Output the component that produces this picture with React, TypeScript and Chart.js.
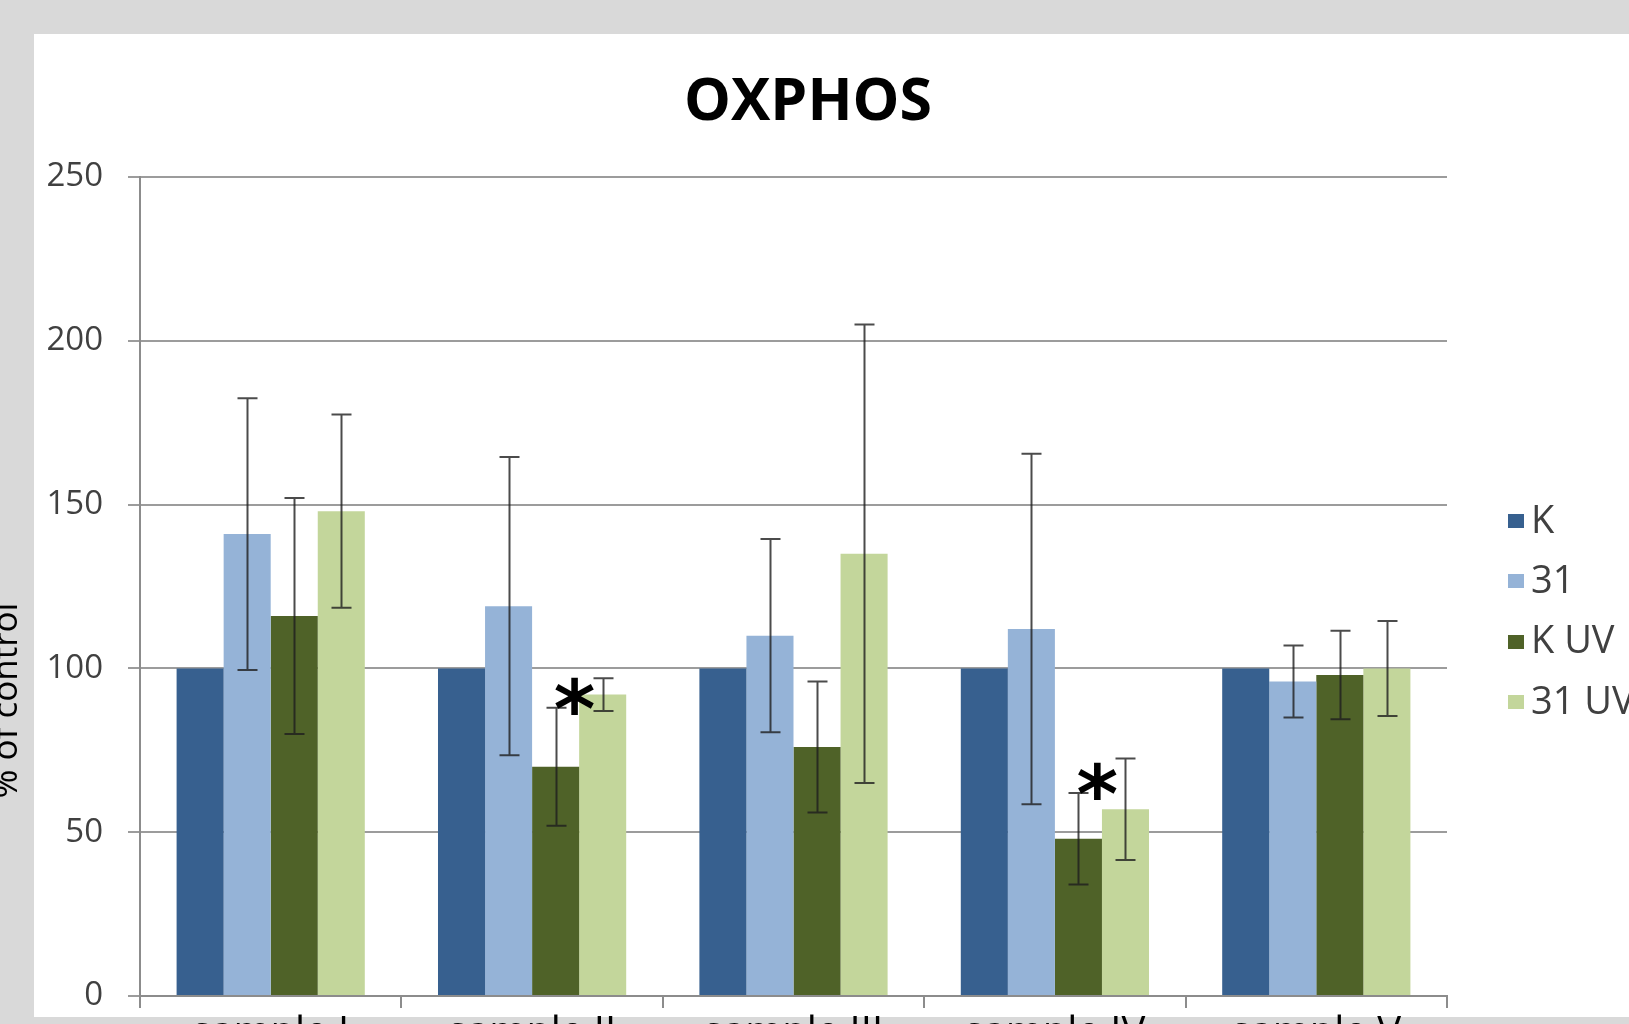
import React, { useEffect, useRef } from 'react';
import { Chart, registerables } from 'chart.js';

Chart.register(...registerables);

// ---- data ----
const categories = ['sample I', 'sample II', 'sample III', 'sample IV', 'sample V'];
const seriesNames = ['K', '31', 'K UV', '31 UV'];
const valuesK = [100, 100, 100, 100, 100];
const values31 = [141, 119, 110, 112, 96];
const valuesKUV = [116, 70, 76, 48, 98];
const values31UV = [148, 92, 135, 57, 100];
const errK = [0, 0, 0, 0, 0];
const err31 = [41.5, 45.5, 29.5, 53.5, 11];
const errKUV = [36, 18, 20, 14, 13.5];
const err31UV = [29.5, 5, 70, 15.5, 14.5];
const yTickMin = 0;
const yTickMax = 250;
const yTickStep = 50;
const significantCategories = ['sample II', 'sample IV'];
const significantSeries = 'K UV';
const titleText = 'OXPHOS';
const yTitleText = '% of control';

const seriesValues = [valuesK, values31, valuesKUV, values31UV];
const seriesErrors = [errK, err31, errKUV, err31UV];
const seriesColors = ['#37608f', '#95b3d7', '#4f6228', '#c3d69b'];

const W = 1640;
const H = 1080;
const FONT = "'Open Sans', sans-serif";

const backgroundPlugin = {
  id: 'bgPanel',
  beforeDraw(chart: any) {
    const ctx = chart.ctx;
    ctx.save();
    ctx.fillStyle = '#d9d9d9';
    ctx.fillRect(0, 0, chart.width, chart.height);
    ctx.fillStyle = '#ffffff';
    ctx.fillRect(34, 34, chart.width - 34, 1017 - 34);
    ctx.restore();
  },
  afterDraw(chart: any) {
    const ctx = chart.ctx;
    const area = chart.chartArea;
    // y axis title
    ctx.save();
    ctx.translate(17, (area.top + area.bottom) / 2 + 114);
    ctx.rotate(-Math.PI / 2);
    ctx.font = `35px ${FONT}`;
    ctx.fillStyle = '#000000';
    ctx.textAlign = 'center';
    ctx.textBaseline = 'alphabetic';
    ctx.fillText(yTitleText, 0, 0);
    ctx.restore();

    // legend (Excel style, to the right of the plot)
    ctx.save();
    const ds = chart.data.datasets;
    const markerX = area.right + 61;
    const firstY = (area.top + area.bottom) / 2 - 65.5;
    const step = 60.3;
    ctx.font = `38px ${FONT}`;
    ctx.textAlign = 'left';
    ctx.textBaseline = 'middle';
    ds.forEach((d: any, i: number) => {
      const cy = firstY + i * step;
      ctx.fillStyle = d.backgroundColor;
      ctx.fillRect(markerX, Math.round(cy - 7), 16, 14);
      ctx.fillStyle = '#404040';
      ctx.fillText(d.label, markerX + 23, cy + 1);
    });
    ctx.restore();
  },
};

const errorBarPlugin = {
  id: 'errorBars',
  afterDatasetsDraw(chart: any) {
    const ctx = chart.ctx;
    const yScale = chart.scales.y;
    ctx.save();
    ctx.strokeStyle = 'rgba(30,30,30,0.8)';
    ctx.lineWidth = 2;
    chart.data.datasets.forEach((ds: any, d: number) => {
      const meta = chart.getDatasetMeta(d);
      const errs = seriesErrors[d];
      meta.data.forEach((el: any, i: number) => {
        const err = errs[i];
        if (!err) return;
        const v = ds.data[i];
        const yTop = yScale.getPixelForValue(v + err);
        const yBot = yScale.getPixelForValue(v - err);
        const x = Math.round(el.x) + 0.5;
        ctx.beginPath();
        ctx.moveTo(x, yTop);
        ctx.lineTo(x, yBot);
        ctx.moveTo(x - 10, yTop);
        ctx.lineTo(x + 10, yTop);
        ctx.moveTo(x - 10, yBot);
        ctx.lineTo(x + 10, yBot);
        ctx.stroke();
      });
    });

    // significance asterisks
    const sIdx = seriesNames.indexOf(significantSeries);
    const meta = chart.getDatasetMeta(sIdx);
    ctx.fillStyle = '#000000';
    ctx.textAlign = 'left';
    ctx.textBaseline = 'alphabetic';
    ctx.font = `bold 100px 'DejaVu Sans', sans-serif`;
    const m = ctx.measureText('*');
    const gw = m.actualBoundingBoxLeft + m.actualBoundingBoxRight;
    const size = (100 * 39) / gw;
    ctx.font = `bold ${size}px 'DejaVu Sans', sans-serif`;
    const m2 = ctx.measureText('*');
    significantCategories.forEach((cat) => {
      const i = categories.indexOf(cat);
      const el = meta.data[i];
      const top = seriesValues[sIdx][i] + seriesErrors[sIdx][i];
      const cx = el.x + 19;
      const cy = yScale.getPixelForValue(top) - 12;
      const bx = cx - (m2.actualBoundingBoxRight - m2.actualBoundingBoxLeft) / 2;
      const by = cy + (m2.actualBoundingBoxAscent - m2.actualBoundingBoxDescent) / 2;
      ctx.fillText('*', bx, by);
    });
    ctx.restore();
  },
};

export default function App() {
  const ref = useRef<HTMLCanvasElement>(null);

  useEffect(() => {
    const canvas = ref.current;
    if (!canvas) return;
    const chart = new Chart(canvas, {
      type: 'bar',
      data: {
        labels: categories,
        datasets: seriesNames.map((name, d) => ({
          label: name,
          data: seriesValues[d],
          backgroundColor: seriesColors[d],
          borderWidth: 0,
          categoryPercentage: 0.72,
          barPercentage: 1.0,
        })),
      },
      options: {
        responsive: false,
        animation: false,
        devicePixelRatio: 1,
        layout: { padding: { left: 0, top: 0, right: 24, bottom: 0 } },
        plugins: {
          tooltip: { enabled: false },
          legend: { display: false },
          title: {
            display: true,
            text: titleText,
            color: '#000000',
            font: { family: FONT, size: 59, weight: 'bold' },
            padding: { top: 67.3, bottom: 38.9 },
          },
        },
        scales: {
          x: {
            type: 'category',
            grid: {
              display: true,
              drawOnChartArea: false,
              drawTicks: true,
              tickLength: 12,
              color: '#8c8c8c',
              lineWidth: 2,
              offset: true,
            },
            border: { display: true, color: '#8c8c8c', width: 2 },
            ticks: {
              color: '#000000',
              font: { family: FONT, size: 40 },
              padding: 2,
              maxRotation: 0,
              autoSkip: false,
            },
            afterFit: (s: any) => {
              s.height = H - 996;
            },
          },
          y: {
            type: 'linear',
            position: 'left',
            min: yTickMin,
            max: yTickMax,
            ticks: {
              stepSize: yTickStep,
              color: '#404040',
              font: { family: FONT, size: 33 },
              padding: 25,
            },
            grid: {
              color: '#9c9c9c',
              lineWidth: 2,
              tickLength: 12,
              drawTicks: true,
            },
            border: { display: true, color: '#8c8c8c', width: 2 },
            afterFit: (s: any) => {
              s.width = 140;
            },
          },
          yR: {
            type: 'linear',
            position: 'right',
            display: true,
            grid: { display: false, drawTicks: false },
            ticks: { display: false },
            border: { display: false },
            afterFit: (s: any) => {
              s.width = 169;
            },
          },
        },
      } as any,
      plugins: [backgroundPlugin, errorBarPlugin],
    });
    return () => chart.destroy();
  }, []);

  return (
    <div
      style={{
        position: 'fixed',
        left: 0,
        top: 0,
        width: 1629,
        height: 1024,
        overflow: 'hidden',
        background: '#d9d9d9',
      }}
    >
      <canvas ref={ref} width={W} height={H} style={{ display: 'block', width: W, height: H }} />
    </div>
  );
}
